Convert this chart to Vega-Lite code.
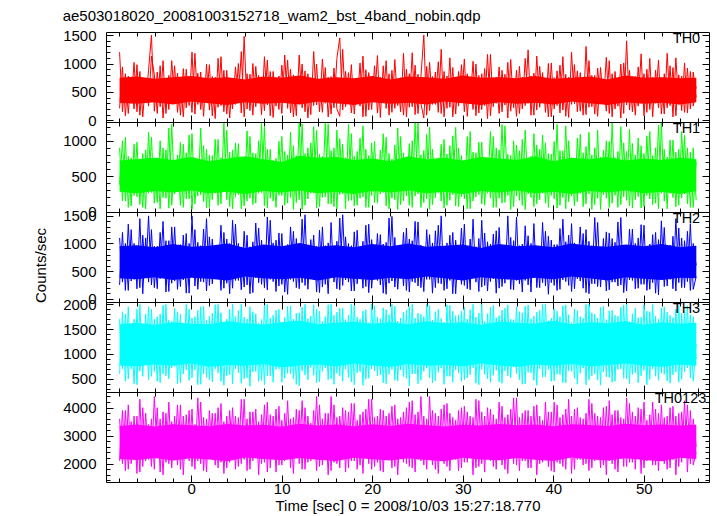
{
"$schema":"https://vega.github.io/schema/vega-lite/v6.json",
"padding":{"left":33,"top":8,"right":5,"bottom":0},
"spacing":0,
"bounds":"flush",
"datasets":{"lc":[
{"t":-7.9,"a":1200,"b":380,"c":1100,"d":1700,"e":3600,"p":210,"q":900,"r":250,"s":600,"u":2100},
{"t":-7.58,"a":150,"b":1000,"c":300,"d":700,"e":2000,"p":940,"q":150,"r":1200,"s":1850,"u":3900},
{"t":-7.26,"a":820,"b":150,"c":1000,"d":1800,"e":3900,"p":80,"q":1050,"r":150,"s":450,"u":1750},
{"t":-6.94,"a":120,"b":780,"c":150,"d":500,"e":1800,"p":780,"q":60,"r":1350,"s":1950,"u":4100},
{"t":-6.62,"a":760,"b":80,"c":1250,"d":1600,"e":3500,"p":300,"q":760,"r":320,"s":700,"u":2000},
{"t":-6.3,"a":200,"b":950,"c":350,"d":400,"e":2200,"p":1020,"q":230,"r":1000,"s":1700,"u":3700},
{"t":-5.98,"a":980,"b":210,"c":900,"d":1900,"e":3700,"p":150,"q":980,"r":180,"s":380,"u":1650},
{"t":-5.66,"a":90,"b":700,"c":200,"d":650,"e":1700,"p":860,"q":100,"r":1450,"s":2000,"u":4300},
{"t":-5.34,"a":700,"b":60,"c":1150,"d":1500,"e":4000,"p":60,"q":820,"r":90,"s":550,"u":1900},
{"t":-5.02,"a":310,"b":870,"c":400,"d":800,"e":2100,"p":720,"q":40,"r":1100,"s":1800,"u":3800},
{"t":-4.7,"a":880,"b":260,"c":1500,"d":1950,"e":3400,"p":250,"q":1120,"r":300,"s":480,"u":2150},
{"t":-4.38,"a":1500,"b":1050,"c":250,"d":550,"e":1900,"p":1130,"q":270,"r":1250,"s":1900,"u":3600},
{"t":-4.06,"a":160,"b":120,"c":950,"d":1700,"e":4400,"p":800,"q":740,"r":200,"s":650,"u":1800},
{"t":-3.74,"a":850,"b":760,"c":180,"d":450,"e":2300,"p":120,"q":130,"r":950,"s":1750,"u":4000},
{"t":-3.42,"a":240,"b":40,"c":1200,"d":1800,"e":3600,"p":960,"q":1000,"r":360,"s":420,"u":1700},
{"t":-3.1,"a":1050,"b":900,"c":380,"d":600,"e":1600,"p":40,"q":200,"r":1400,"s":1980,"u":3850},
{"t":-2.78,"a":120,"b":190,"c":1050,"d":2000,"e":3800,"p":740,"q":870,"r":120,"s":560,"u":2050},
{"t":-2.46,"a":790,"b":1180,"c":130,"d":500,"e":2000,"p":190,"q":50,"r":1050,"s":1680,"u":4200},
{"t":-2.14,"a":300,"b":90,"c":1300,"d":1650,"e":3500,"p":1050,"q":1230,"r":280,"s":720,"u":1850},
{"t":-1.82,"a":960,"b":720,"c":320,"d":750,"e":2400,"p":310,"q":250,"r":1300,"s":1920,"u":3700},
{"t":-1.5,"a":140,"b":300,"c":880,"d":1850,"e":4100,"p":830,"q":800,"r":170,"s":400,"u":1950},
{"t":-1.18,"a":720,"b":980,"c":220,"d":420,"e":1800,"p":90,"q":90,"r":980,"s":1800,"u":4100},
{"t":-0.86,"a":60,"b":60,"c":1150,"d":1600,"e":3700,"p":910,"q":950,"r":340,"s":600,"u":1600},
{"t":-0.54,"a":900,"b":830,"c":100,"d":680,"e":2200,"p":220,"q":180,"r":1180,"s":2000,"u":3750},
{"t":-0.22,"a":260,"b":180,"c":1000,"d":1900,"e":3900,"p":760,"q":1080,"r":100,"s":470,"u":2100},
{"t":0.1,"a":1200,"b":1100,"c":410,"d":520,"e":1900,"p":140,"q":30,"r":1500,"s":1720,"u":3950},
{"t":0.42,"a":110,"b":110,"c":1250,"d":1750,"e":3400,"p":1180,"q":760,"r":230,"s":680,"u":1800},
{"t":0.74,"a":830,"b":690,"c":170,"d":380,"e":2100,"p":280,"q":220,"r":1020,"s":1880,"u":4350},
{"t":1.06,"a":190,"b":240,"c":960,"d":1950,"e":4200,"p":850,"q":1180,"r":310,"s":390,"u":2000},
{"t":1.38,"a":700,"b":930,"c":300,"d":600,"e":1750,"p":70,"q":140,"r":1260,"s":1960,"u":3650},
{"t":1.7,"a":350,"b":50,"c":1450,"d":1680,"e":3600,"p":990,"q":880,"r":140,"s":530,"u":1700},
{"t":2.02,"a":980,"b":800,"c":240,"d":480,"e":2300,"p":180,"q":60,"r":1120,"s":1760,"u":3900},
{"t":2.34,"a":80,"b":170,"c":1080,"d":1820,"e":3800,"p":770,"q":790,"r":270,"s":440,"u":2150},
{"t":2.66,"a":760,"b":1020,"c":360,"d":700,"e":1950,"p":30,"q":260,"r":960,"s":1990,"u":3800},
{"t":2.98,"a":230,"b":90,"c":920,"d":2000,"e":4000,"p":1090,"q":1020,"r":380,"s":620,"u":1850},
{"t":3.3,"a":1120,"b":760,"c":150,"d":450,"e":2050,"p":260,"q":110,"r":1330,"s":1830,"u":4150},
{"t":3.62,"a":150,"b":280,"c":1200,"d":1600,"e":3500,"p":880,"q":1250,"r":190,"s":370,"u":1650},
{"t":3.94,"a":880,"b":1150,"c":280,"d":560,"e":1850,"p":110,"q":170,"r":1080,"s":1700,"u":3700},
{"t":4.26,"a":40,"b":70,"c":1000,"d":1900,"e":3900,"p":730,"q":840,"r":90,"s":580,"u":2050},
{"t":4.58,"a":740,"b":870,"c":190,"d":400,"e":2250,"p":200,"q":40,"r":1420,"s":2000,"u":4000},
{"t":4.9,"a":280,"b":210,"c":1350,"d":1750,"e":3700,"p":940,"q":970,"r":330,"s":700,"u":1800},
{"t":5.22,"a":1000,"b":960,"c":330,"d":620,"e":1900,"p":320,"q":240,"r":1000,"s":1870,"u":3650},
{"t":5.54,"a":130,"b":40,"c":890,"d":2000,"e":4300,"p":1210,"q":760,"r":160,"s":410,"u":2000},
{"t":5.86,"a":1480,"b":740,"c":210,"d":500,"e":2150,"p":60,"q":80,"r":1220,"s":1740,"u":4300},
{"t":6.18,"a":200,"b":150,"c":1150,"d":1700,"e":3600,"p":820,"q":1140,"r":250,"s":520,"u":1750},
{"t":6.5,"a":810,"b":1060,"c":90,"d":350,"e":1800,"p":170,"q":190,"r":940,"s":1950,"u":3850},
{"t":6.82,"a":90,"b":100,"c":1030,"d":1850,"e":3850,"p":1000,"q":830,"r":110,"s":640,"u":2100},
{"t":7.14,"a":950,"b":820,"c":380,"d":650,"e":2400,"p":240,"q":120,"r":1370,"s":1810,"u":3950},
{"t":7.46,"a":330,"b":260,"c":1280,"d":1620,"e":3500,"p":790,"q":1000,"r":290,"s":450,"u":1600},
{"t":7.78,"a":700,"b":1250,"c":260,"d":470,"e":2000,"p":100,"q":270,"r":1060,"s":1690,"u":3750},
{"t":8.1,"a":170,"b":80,"c":940,"d":1980,"e":4100,"p":1120,"q":1200,"r":200,"s":380,"u":2050},
{"t":8.42,"a":1060,"b":880,"c":160,"d":560,"e":1700,"p":270,"q":50,"r":1480,"s":2000,"u":4200},
{"t":8.74,"a":80,"b":190,"c":1420,"d":1720,"e":3750,"p":860,"q":880,"r":350,"s":560,"u":1850},
{"t":9.06,"a":860,"b":720,"c":310,"d":430,"e":2200,"p":50,"q":150,"r":1010,"s":1780,"u":3700},
{"t":9.38,"a":250,"b":60,"c":1060,"d":1880,"e":3950,"p":750,"q":750,"r":130,"s":690,"u":1700},
{"t":9.7,"a":780,"b":990,"c":230,"d":700,"e":1950,"p":190,"q":230,"r":1190,"s":1900,"u":4050},
{"t":10.02,"a":120,"b":230,"c":1180,"d":1640,"e":3550,"p":970,"q":1060,"r":260,"s":430,"u":1950},
{"t":10.34,"a":1150,"b":850,"c":120,"d":510,"e":2100,"p":310,"q":90,"r":920,"s":1730,"u":3800},
{"t":10.66,"a":210,"b":120,"c":980,"d":1960,"e":4250,"p":1060,"q":800,"r":80,"s":610,"u":2150},
{"t":10.98,"a":900,"b":1120,"c":350,"d":600,"e":1850,"p":130,"q":200,"r":1300,"s":1970,"u":3600},
{"t":11.3,"a":60,"b":30,"c":1220,"d":1700,"e":3650,"p":800,"q":930,"r":310,"s":500,"u":1650},
{"t":11.62,"a":740,"b":790,"c":200,"d":390,"e":2300,"p":80,"q":130,"r":1090,"s":1820,"u":3950},
{"t":11.94,"a":300,"b":170,"c":900,"d":1830,"e":3900,"p":1150,"q":1250,"r":180,"s":360,"u":2000},
{"t":12.26,"a":990,"b":1240,"c":290,"d":660,"e":1800,"p":220,"q":30,"r":1440,"s":1940,"u":4250},
{"t":12.58,"a":150,"b":90,"c":1520,"d":2000,"e":4000,"p":870,"q":820,"r":240,"s":580,"u":1800},
{"t":12.9,"a":820,"b":900,"c":170,"d":480,"e":2050,"p":40,"q":180,"r":970,"s":1710,"u":3700},
{"t":13.22,"a":100,"b":260,"c":1070,"d":1760,"e":3450,"p":730,"q":970,"r":370,"s":730,"u":2100},
{"t":13.54,"a":1210,"b":1200,"c":340,"d":570,"e":2250,"p":260,"q":260,"r":1150,"s":1990,"u":3900},
{"t":13.86,"a":270,"b":50,"c":950,"d":1900,"e":4400,"p":990,"q":1150,"r":120,"s":420,"u":1750},
{"t":14.18,"a":690,"b":810,"c":110,"d":440,"e":1900,"p":150,"q":70,"r":1240,"s":1860,"u":4100},
{"t":14.5,"a":140,"b":200,"c":1300,"d":1650,"e":3600,"p":1080,"q":780,"r":210,"s":650,"u":1950},
{"t":14.82,"a":930,"b":1250,"c":260,"d":720,"e":2150,"p":300,"q":210,"r":960,"s":1750,"u":3800},
{"t":15.14,"a":60,"b":110,"c":1010,"d":1990,"e":3800,"p":760,"q":1240,"r":90,"s":480,"u":1600},
{"t":15.46,"a":770,"b":860,"c":390,"d":500,"e":1750,"p":110,"q":110,"r":1380,"s":2000,"u":4400},
{"t":15.78,"a":220,"b":70,"c":880,"d":1780,"e":4100,"p":920,"q":900,"r":300,"s":390,"u":2050},
{"t":16.1,"a":1090,"b":1150,"c":180,"d":610,"e":2000,"p":200,"q":40,"r":1040,"s":1840,"u":3650},
{"t":16.42,"a":1450,"b":240,"c":1460,"d":1920,"e":3700,"p":70,"q":1030,"r":160,"s":560,"u":1850},
{"t":16.74,"a":180,"b":950,"c":240,"d":450,"e":2350,"p":1250,"q":250,"r":1520,"s":1920,"u":4000},
{"t":17.06,"a":860,"b":40,"c":1120,"d":1690,"e":3900,"p":240,"q":760,"r":340,"s":700,"u":1700},
{"t":17.38,"a":300,"b":1230,"c":300,"d":530,"e":1850,"p":840,"q":150,"r":1000,"s":1780,"u":3850},
{"t":17.7,"a":980,"b":160,"c":960,"d":2000,"e":4150,"p":130,"q":1100,"r":140,"s":440,"u":2100},
{"t":18.02,"a":110,"b":780,"c":140,"d":380,"e":2100,"p":730,"q":80,"r":1210,"s":1980,"u":4150},
{"t":18.34,"a":720,"b":90,"c":1240,"d":1740,"e":3550,"p":290,"q":850,"r":270,"s":620,"u":1800},
{"t":18.66,"a":250,"b":1040,"c":360,"d":640,"e":1950,"p":1010,"q":190,"r":930,"s":1700,"u":3750},
{"t":18.98,"a":1130,"b":210,"c":1040,"d":1860,"e":3850,"p":60,"q":1210,"r":190,"s":370,"u":1650},
{"t":19.3,"a":70,"b":880,"c":220,"d":490,"e":2250,"p":890,"q":60,"r":1330,"s":1890,"u":3950},
{"t":19.62,"a":840,"b":60,"c":1350,"d":1630,"e":4300,"p":180,"q":790,"r":110,"s":510,"u":2000},
{"t":19.94,"a":190,"b":970,"c":190,"d":700,"e":1800,"p":780,"q":230,"r":1070,"s":2000,"u":4300},
{"t":20.26,"a":960,"b":130,"c":900,"d":1970,"e":3650,"p":320,"q":990,"r":360,"s":660,"u":1900},
{"t":20.58,"a":130,"b":730,"c":330,"d":560,"e":2050,"p":1140,"q":120,"r":1180,"s":1740,"u":3700},
{"t":20.9,"a":760,"b":250,"c":1160,"d":1710,"e":3950,"p":50,"q":870,"r":250,"s":580,"u":1750},
{"t":21.22,"a":320,"b":1100,"c":100,"d":420,"e":1700,"p":960,"q":270,"r":990,"s":1930,"u":3900},
{"t":21.54,"a":1050,"b":80,"c":1020,"d":1890,"e":3700,"p":210,"q":1050,"r":80,"s":400,"u":2150},
{"t":21.86,"a":90,"b":820,"c":280,"d":590,"e":2200,"p":820,"q":40,"r":1460,"s":1790,"u":3800},
{"t":22.18,"a":880,"b":190,"c":1490,"d":2000,"e":4050,"p":140,"q":740,"r":320,"s":690,"u":1850},
{"t":22.5,"a":210,"b":940,"c":210,"d":470,"e":1900,"p":1070,"q":170,"r":1110,"s":1960,"u":4100},
{"t":22.82,"a":700,"b":30,"c":930,"d":1660,"e":3600,"p":260,"q":1180,"r":170,"s":460,"u":1600},
{"t":23.14,"a":150,"b":1060,"c":370,"d":680,"e":2300,"p":750,"q":100,"r":950,"s":1720,"u":3650},
{"t":23.46,"a":1180,"b":150,"c":1200,"d":1840,"e":3850,"p":90,"q":830,"r":230,"s":540,"u":2050},
{"t":23.78,"a":60,"b":770,"c":150,"d":510,"e":2000,"p":900,"q":220,"r":1280,"s":1880,"u":4000},
{"t":24.1,"a":820,"b":90,"c":1080,"d":1950,"e":4200,"p":230,"q":960,"r":120,"s":360,"u":1900},
{"t":24.42,"a":240,"b":1000,"c":310,"d":600,"e":1850,"p":1190,"q":60,"r":1050,"s":2000,"u":4250},
{"t":24.74,"a":970,"b":220,"c":1400,"d":1720,"e":3750,"p":100,"q":1250,"r":290,"s":600,"u":1700},
{"t":25.06,"a":120,"b":1250,"c":230,"d":400,"e":2150,"p":810,"q":250,"r":1390,"s":1820,"u":3850},
{"t":25.38,"a":760,"b":60,"c":970,"d":1800,"e":4400,"p":300,"q":800,"r":200,"s":470,"u":2100},
{"t":25.7,"a":1500,"b":860,"c":130,"d":650,"e":1950,"p":40,"q":130,"r":920,"s":1750,"u":3700},
{"t":26.02,"a":90,"b":180,"c":1250,"d":2000,"e":3600,"p":950,"q":1090,"r":350,"s":710,"u":1800},
{"t":26.34,"a":1020,"b":1190,"c":350,"d":520,"e":2250,"p":170,"q":30,"r":1160,"s":1970,"u":4400},
{"t":26.66,"a":280,"b":100,"c":1010,"d":1680,"e":3900,"p":770,"q":880,"r":100,"s":420,"u":1950},
{"t":26.98,"a":850,"b":740,"c":200,"d":460,"e":1800,"p":280,"q":200,"r":1230,"s":1850,"u":3800},
{"t":27.3,"a":140,"b":270,"c":1330,"d":1900,"e":3700,"p":1030,"q":760,"r":280,"s":630,"u":1650},
{"t":27.62,"a":1250,"b":950,"c":270,"d":710,"e":2100,"p":120,"q":150,"r":1500,"s":1710,"u":3950},
{"t":27.94,"a":60,"b":50,"c":910,"d":1640,"e":4100,"p":860,"q":1020,"r":150,"s":390,"u":2000},
{"t":28.26,"a":780,"b":810,"c":180,"d":550,"e":1900,"p":210,"q":90,"r":1010,"s":1990,"u":4150},
{"t":28.58,"a":230,"b":160,"c":1150,"d":1980,"e":3800,"p":1100,"q":930,"r":330,"s":550,"u":1750},
{"t":28.9,"a":930,"b":1070,"c":90,"d":430,"e":2350,"p":60,"q":240,"r":1200,"s":1860,"u":3650},
{"t":29.22,"a":110,"b":80,"c":1060,"d":1770,"e":3550,"p":740,"q":1190,"r":90,"s":680,"u":2150},
{"t":29.54,"a":860,"b":900,"c":390,"d":620,"e":1750,"p":250,"q":70,"r":960,"s":1780,"u":3900},
{"t":29.86,"a":320,"b":210,"c":1280,"d":1860,"e":4000,"p":980,"q":790,"r":260,"s":450,"u":1850},
{"t":30.18,"a":1080,"b":700,"c":240,"d":480,"e":2050,"p":150,"q":180,"r":1350,"s":1940,"u":4050},
{"t":30.5,"a":70,"b":40,"c":950,"d":1700,"e":3850,"p":820,"q":1060,"r":180,"s":520,"u":2050},
{"t":30.82,"a":740,"b":1130,"c":160,"d":580,"e":2200,"p":310,"q":40,"r":1080,"s":1890,"u":3700},
{"t":31.14,"a":190,"b":150,"c":1440,"d":2000,"e":3650,"p":1040,"q":840,"r":370,"s":720,"u":1600},
{"t":31.46,"a":990,"b":830,"c":300,"d":410,"e":1850,"p":80,"q":210,"r":940,"s":1740,"u":4300},
{"t":31.78,"a":130,"b":240,"c":1090,"d":1820,"e":4250,"p":790,"q":980,"r":130,"s":380,"u":1900},
{"t":32.1,"a":820,"b":980,"c":210,"d":690,"e":2000,"p":190,"q":110,"r":1420,"s":2000,"u":3850},
{"t":32.42,"a":260,"b":90,"c":1190,"d":1650,"e":3700,"p":910,"q":770,"r":240,"s":590,"u":1700},
{"t":32.74,"a":1160,"b":760,"c":140,"d":500,"e":2300,"p":30,"q":260,"r":1030,"s":1810,"u":4000},
{"t":33.06,"a":80,"b":190,"c":990,"d":1940,"e":3950,"p":1160,"q":1130,"r":310,"s":430,"u":2100},
{"t":33.38,"a":700,"b":1060,"c":360,"d":570,"e":1900,"p":240,"q":60,"r":1170,"s":1980,"u":3750},
{"t":33.7,"a":300,"b":60,"c":1230,"d":1730,"e":3600,"p":760,"q":900,"r":100,"s":670,"u":1800},
{"t":34.02,"a":940,"b":870,"c":190,"d":440,"e":2150,"p":120,"q":190,"r":1290,"s":1770,"u":4200},
{"t":34.34,"a":150,"b":120,"c":920,"d":1880,"e":4050,"p":880,"q":1230,"r":220,"s":410,"u":1950},
{"t":34.66,"a":810,"b":1210,"c":280,"d":660,"e":1800,"p":270,"q":130,"r":970,"s":1920,"u":3650},
{"t":34.98,"a":40,"b":230,"c":1500,"d":1990,"e":3750,"p":1020,"q":810,"r":350,"s":560,"u":1650},
{"t":35.3,"a":1070,"b":790,"c":170,"d":520,"e":2250,"p":160,"q":30,"r":1110,"s":1700,"u":3950},
{"t":35.62,"a":220,"b":70,"c":1050,"d":1690,"e":4350,"p":730,"q":1000,"r":160,"s":740,"u":2000},
{"t":35.94,"a":880,"b":940,"c":330,"d":600,"e":1950,"p":70,"q":220,"r":1480,"s":1950,"u":4350},
{"t":36.26,"a":120,"b":160,"c":960,"d":1850,"e":3650,"p":950,"q":860,"r":270,"s":480,"u":1750},
{"t":36.58,"a":760,"b":1020,"c":120,"d":390,"e":2100,"p":200,"q":90,"r":990,"s":1830,"u":3800},
{"t":36.9,"a":260,"b":30,"c":1320,"d":1960,"e":3900,"p":1090,"q":1150,"r":330,"s":400,"u":2100},
{"t":37.22,"a":1240,"b":750,"c":250,"d":630,"e":1850,"p":300,"q":250,"r":1140,"s":1990,"u":3900},
{"t":37.54,"a":90,"b":200,"c":1000,"d":1710,"e":3700,"p":780,"q":780,"r":120,"s":620,"u":1850},
{"t":37.86,"a":830,"b":1100,"c":380,"d":470,"e":2200,"p":90,"q":70,"r":1360,"s":1760,"u":4050},
{"t":38.18,"a":180,"b":110,"c":890,"d":1840,"e":4100,"p":1130,"q":940,"r":200,"s":370,"u":1600},
{"t":38.5,"a":950,"b":880,"c":200,"d":700,"e":2000,"p":230,"q":170,"r":930,"s":1880,"u":3700},
{"t":38.82,"a":310,"b":260,"c":1380,"d":2000,"e":3550,"p":840,"q":1080,"r":290,"s":530,"u":2050},
{"t":39.14,"a":720,"b":970,"c":230,"d":540,"e":2300,"p":140,"q":120,"r":1220,"s":2000,"u":4200},
{"t":39.46,"a":60,"b":60,"c":1130,"d":1670,"e":3850,"p":1000,"q":820,"r":80,"s":690,"u":1900},
{"t":39.78,"a":1010,"b":810,"c":290,"d":450,"e":1750,"p":60,"q":230,"r":1060,"s":1720,"u":3850},
{"t":40.1,"a":200,"b":180,"c":980,"d":1910,"e":4200,"p":750,"q":990,"r":240,"s":460,"u":1700},
{"t":40.42,"a":870,"b":1230,"c":150,"d":590,"e":2050,"p":260,"q":50,"r":980,"s":1860,"u":4100},
{"t":40.74,"a":130,"b":90,"c":1270,"d":1750,"e":3650,"p":970,"q":860,"r":170,"s":580,"u":2000},
{"t":41.06,"a":1120,"b":860,"c":340,"d":420,"e":1900,"p":180,"q":200,"r":1440,"s":1970,"u":3750},
{"t":41.38,"a":70,"b":40,"c":1030,"d":1990,"e":3950,"p":810,"q":1210,"r":310,"s":420,"u":1800},
{"t":41.7,"a":760,"b":1000,"c":240,"d":660,"e":2250,"p":50,"q":140,"r":1150,"s":1790,"u":4300},
{"t":42.02,"a":280,"b":220,"c":1360,"d":1630,"e":3700,"p":1200,"q":760,"r":130,"s":650,"u":1650},
{"t":42.34,"a":980,"b":740,"c":180,"d":510,"e":1800,"p":290,"q":80,"r":1010,"s":1910,"u":3950},
{"t":42.66,"a":150,"b":140,"c":910,"d":1870,"e":4000,"p":870,"q":1040,"r":360,"s":390,"u":2150},
{"t":42.98,"a":840,"b":1090,"c":320,"d":610,"e":2150,"p":160,"q":260,"r":1300,"s":1750,"u":3650},
{"t":43.3,"a":90,"b":70,"c":1180,"d":1720,"e":3600,"p":760,"q":830,"r":190,"s":710,"u":1950},
{"t":43.62,"a":1300,"b":920,"c":110,"d":380,"e":2000,"p":100,"q":110,"r":1250,"s":2000,"u":3800},
{"t":43.94,"a":230,"b":250,"c":1040,"d":2000,"e":4300,"p":1050,"q":1120,"r":90,"s":480,"u":1750},
{"t":44.26,"a":790,"b":800,"c":270,"d":560,"e":1850,"p":240,"q":30,"r":960,"s":1830,"u":4150},
{"t":44.58,"a":110,"b":100,"c":1470,"d":1800,"e":3800,"p":790,"q":900,"r":270,"s":600,"u":2100},
{"t":44.9,"a":920,"b":1150,"c":220,"d":480,"e":2200,"p":70,"q":190,"r":1380,"s":1720,"u":3700},
{"t":45.22,"a":340,"b":30,"c":940,"d":1940,"e":3650,"p":930,"q":770,"r":210,"s":370,"u":1850},
{"t":45.54,"a":700,"b":870,"c":360,"d":640,"e":1950,"p":310,"q":240,"r":1090,"s":1960,"u":4000},
{"t":45.86,"a":160,"b":190,"c":1210,"d":1690,"e":4050,"p":1110,"q":1000,"r":140,"s":540,"u":1600},
{"t":46.18,"a":1050,"b":990,"c":160,"d":530,"e":2100,"p":120,"q":60,"r":1190,"s":1870,"u":4250},
{"t":46.5,"a":60,"b":120,"c":1090,"d":1880,"e":3750,"p":820,"q":1250,"r":300,"s":430,"u":2000},
{"t":46.82,"a":860,"b":760,"c":300,"d":450,"e":1800,"p":200,"q":230,"r":1020,"s":1780,"u":3900},
{"t":47.14,"a":250,"b":60,"c":1390,"d":1760,"e":3900,"p":740,"q":850,"r":230,"s":690,"u":1700},
{"t":47.46,"a":990,"b":1200,"c":250,"d":700,"e":2300,"p":40,"q":100,"r":1470,"s":1940,"u":3650},
{"t":47.78,"a":120,"b":210,"c":960,"d":1990,"e":3600,"p":1010,"q":970,"r":110,"s":510,"u":1900},
{"t":48.1,"a":1400,"b":850,"c":140,"d":500,"e":1900,"p":270,"q":160,"r":940,"s":2000,"u":4350},
{"t":48.42,"a":180,"b":80,"c":1260,"d":1650,"e":4150,"p":880,"q":1160,"r":340,"s":400,"u":2050},
{"t":48.74,"a":770,"b":960,"c":330,"d":590,"e":2050,"p":150,"q":50,"r":1260,"s":1810,"u":3850},
{"t":49.06,"a":90,"b":170,"c":1000,"d":1920,"e":3700,"p":770,"q":800,"r":180,"s":620,"u":1800},
{"t":49.38,"a":940,"b":1040,"c":190,"d":420,"e":2200,"p":250,"q":210,"r":1100,"s":1730,"u":4000},
{"t":49.7,"a":300,"b":50,"c":1340,"d":1740,"e":3950,"p":1170,"q":930,"r":260,"s":560,"u":1650},
{"t":50.02,"a":820,"b":820,"c":260,"d":670,"e":1850,"p":80,"q":70,"r":1330,"s":1990,"u":4200},
{"t":50.34,"a":140,"b":230,"c":920,"d":1860,"e":3550,"p":900,"q":1070,"r":150,"s":380,"u":2100},
{"t":50.66,"a":1090,"b":1130,"c":170,"d":490,"e":2250,"p":190,"q":180,"r":990,"s":1850,"u":3750},
{"t":50.98,"a":60,"b":100,"c":1160,"d":2000,"e":4200,"p":760,"q":790,"r":290,"s":700,"u":1950},
{"t":51.3,"a":880,"b":900,"c":100,"d":550,"e":1950,"p":300,"q":120,"r":1200,"s":1760,"u":3950},
{"t":51.62,"a":220,"b":40,"c":1070,"d":1700,"e":3800,"p":1060,"q":1220,"r":70,"s":470,"u":1750},
{"t":51.94,"a":750,"b":1250,"c":380,"d":620,"e":2100,"p":110,"q":260,"r":1410,"s":1920,"u":4100},
{"t":52.26,"a":110,"b":150,"c":1290,"d":1950,"e":3650,"p":820,"q":880,"r":220,"s":590,"u":2000},
{"t":52.58,"a":1180,"b":770,"c":230,"d":460,"e":1800,"p":220,"q":40,"r":970,"s":1840,"u":3700},
{"t":52.9,"a":260,"b":260,"c":970,"d":1780,"e":4000,"p":960,"q":1010,"r":350,"s":410,"u":1850},
{"t":53.22,"a":930,"b":1010,"c":180,"d":580,"e":2150,"p":60,"q":200,"r":1130,"s":1730,"u":4050},
{"t":53.54,"a":80,"b":70,"c":1450,"d":1900,"e":3700,"p":1100,"q":840,"r":140,"s":640,"u":1600},
{"t":53.86,"a":800,"b":880,"c":290,"d":430,"e":1900,"p":280,"q":90,"r":1280,"s":1980,"u":3800},
{"t":54.18,"a":170,"b":190,"c":1100,"d":1820,"e":3850,"p":780,"q":1130,"r":200,"s":490,"u":2050},
{"t":54.5,"a":1010,"b":1080,"c":200,"d":640,"e":2200,"p":140,"q":250,"r":1050,"s":1870,"u":4250},
{"t":54.82,"a":130,"b":110,"c":1220,"d":1970,"e":4100,"p":920,"q":900,"r":310,"s":720,"u":1700},
{"t":55.14,"a":860,"b":840,"c":150,"d":520,"e":2000,"p":200,"q":60,"r":1360,"s":1790,"u":3900},
{"t":55.46,"a":250,"b":60,"c":1000,"d":1750,"e":3600,"p":850,"q":900,"r":170,"s":450,"u":1950},
{"t":55.78,"a":600,"b":700,"c":600,"d":900,"e":2600,"p":400,"q":160,"r":400,"s":1200,"u":2400}
],
"core":[
{"t":-7.9,"a1":310,"a2":750,"b1":280,"b2":720,"c1":370,"c2":950,"d1":770,"d2":1600,"e1":2170,"e2":3350},
{"t":-6,"a1":290,"a2":770,"b1":260,"b2":740,"c1":350,"c2":970,"d1":750,"d2":1630,"e1":2130,"e2":3400},
{"t":-4,"a1":320,"a2":730,"b1":290,"b2":760,"c1":390,"c2":930,"d1":790,"d2":1590,"e1":2200,"e2":3330},
{"t":-2,"a1":280,"a2":760,"b1":270,"b2":730,"c1":340,"c2":990,"d1":760,"d2":1640,"e1":2110,"e2":3410},
{"t":0,"a1":330,"a2":780,"b1":300,"b2":770,"c1":380,"c2":940,"d1":810,"d2":1610,"e1":2190,"e2":3370},
{"t":2,"a1":300,"a2":740,"b1":260,"b2":710,"c1":360,"c2":960,"d1":740,"d2":1600,"e1":2150,"e2":3340},
{"t":4,"a1":270,"a2":760,"b1":280,"b2":750,"c1":330,"c2":1000,"d1":780,"d2":1660,"e1":2090,"e2":3420},
{"t":6,"a1":320,"a2":720,"b1":250,"b2":780,"c1":400,"c2":920,"d1":760,"d2":1620,"e1":2220,"e2":3360},
{"t":8,"a1":290,"a2":770,"b1":290,"b2":740,"c1":370,"c2":980,"d1":800,"d2":1590,"e1":2170,"e2":3390},
{"t":10,"a1":310,"a2":750,"b1":270,"b2":700,"c1":350,"c2":950,"d1":730,"d2":1640,"e1":2120,"e2":3320},
{"t":12,"a1":280,"a2":790,"b1":300,"b2":790,"c1":380,"c2":1010,"d1":770,"d2":1670,"e1":2200,"e2":3430},
{"t":14,"a1":330,"a2":730,"b1":260,"b2":760,"c1":330,"c2":940,"d1":790,"d2":1600,"e1":2140,"e2":3360},
{"t":16,"a1":300,"a2":760,"b1":280,"b2":770,"c1":390,"c2":970,"d1":750,"d2":1630,"e1":2100,"e2":3400},
{"t":18,"a1":270,"a2":740,"b1":250,"b2":730,"c1":360,"c2":930,"d1":810,"d2":1650,"e1":2210,"e2":3340},
{"t":20,"a1":320,"a2":780,"b1":290,"b2":750,"c1":340,"c2":990,"d1":770,"d2":1610,"e1":2160,"e2":3410},
{"t":22,"a1":290,"a2":720,"b1":270,"b2":710,"c1":380,"c2":950,"d1":740,"d2":1640,"e1":2110,"e2":3350},
{"t":24,"a1":310,"a2":770,"b1":300,"b2":780,"c1":350,"c2":1000,"d1":800,"d2":1600,"e1":2190,"e2":3430},
{"t":26,"a1":280,"a2":760,"b1":260,"b2":740,"c1":400,"c2":940,"d1":760,"d2":1660,"e1":2130,"e2":3370},
{"t":28,"a1":330,"a2":730,"b1":280,"b2":760,"c1":370,"c2":960,"d1":780,"d2":1620,"e1":2090,"e2":3330},
{"t":30,"a1":300,"a2":790,"b1":250,"b2":720,"c1":330,"c2":980,"d1":750,"d2":1640,"e1":2210,"e2":3390},
{"t":32,"a1":270,"a2":750,"b1":290,"b2":770,"c1":390,"c2":920,"d1":810,"d2":1590,"e1":2150,"e2":3360},
{"t":34,"a1":320,"a2":760,"b1":270,"b2":750,"c1":360,"c2":990,"d1":770,"d2":1650,"e1":2120,"e2":3420},
{"t":36,"a1":290,"a2":740,"b1":300,"b2":730,"c1":340,"c2":950,"d1":740,"d2":1630,"e1":2200,"e2":3370},
{"t":38,"a1":310,"a2":780,"b1":260,"b2":780,"c1":380,"c2":970,"d1":790,"d2":1610,"e1":2140,"e2":3400},
{"t":40,"a1":280,"a2":730,"b1":280,"b2":710,"c1":350,"c2":930,"d1":760,"d2":1670,"e1":2100,"e2":3340},
{"t":42,"a1":330,"a2":750,"b1":250,"b2":760,"c1":400,"c2":1000,"d1":800,"d2":1600,"e1":2220,"e2":3410},
{"t":44,"a1":300,"a2":770,"b1":290,"b2":740,"c1":370,"c2":960,"d1":750,"d2":1640,"e1":2160,"e2":3380},
{"t":46,"a1":270,"a2":720,"b1":270,"b2":770,"c1":330,"c2":940,"d1":780,"d2":1620,"e1":2110,"e2":3350},
{"t":48,"a1":320,"a2":790,"b1":300,"b2":720,"c1":390,"c2":980,"d1":810,"d2":1660,"e1":2190,"e2":3430},
{"t":50,"a1":290,"a2":750,"b1":260,"b2":750,"c1":360,"c2":950,"d1":770,"d2":1590,"e1":2130,"e2":3370},
{"t":52,"a1":310,"a2":760,"b1":280,"b2":730,"c1":340,"c2":990,"d1":740,"d2":1640,"e1":2090,"e2":3400},
{"t":54,"a1":280,"a2":740,"b1":250,"b2":760,"c1":380,"c2":930,"d1":790,"d2":1610,"e1":2210,"e2":3360},
{"t":55.8,"a1":320,"a2":750,"b1":290,"b2":740,"c1":370,"c2":960,"d1":760,"d2":1630,"e1":2170,"e2":3390}
]},
"vconcat":[
{"width":603,"height":90,
 "title":{"text":"ae503018020_20081003152718_wam2_bst_4band_nobin.qdp","anchor":"start","fontSize":15,"font":"Liberation Sans","fontWeight":"normal","color":"black","offset":4},
 "layer":[
  {"data":{"name":"core"},"mark":{"type":"area","color":"#ff0000","clip":true},
   "encoding":{"x":{"field":"t","type":"quantitative","scale":{"domain":[-9.4,57.2],"nice":false,"zero":false},"axis":null},
    "y":{"field":"a1","type":"quantitative","scale":{"domain":[-30,1555],"nice":false,"zero":false},"axis":null},"y2":{"field":"a2"}}},
  {"data":{"name":"lc"},"mark":{"type":"line","color":"#ff0000","strokeWidth":1,"clip":true},
   "encoding":{"x":{"field":"t","type":"quantitative","axis":null},"y":{"field":"p","type":"quantitative","axis":null}}},
  {"data":{"name":"lc"},"mark":{"type":"line","color":"#ff0000","strokeWidth":1,"clip":true},
   "encoding":{
    "x":{"field":"t","type":"quantitative","scale":{"domain":[-9.4,57.2],"nice":false,"zero":false},"axis":{"orient":"bottom","values":[0,10,20,30,40,50],"labels":false,"tickSize":-7,"title":null}},
    "y":{"field":"a","type":"quantitative","scale":{"domain":[-30,1555],"nice":false,"zero":false},"axis":{"orient":"left","values":[0,500,1000,1500],"format":"d","tickSize":-7,"labelPadding":17,"title":null}}}},
  {"data":{"values":[{"lab":"TH0"}]},"mark":{"type":"text","align":"left","baseline":"top","fontSize":14.5,"font":"Liberation Sans","color":"black"},
   "encoding":{"text":{"field":"lab"},
    "x":{"datum":53.2,"type":"quantitative","axis":{"orient":"top","values":[0,10,20,30,40,50],"labels":false,"tickSize":-7,"title":null}},
    "y":{"datum":1555,"type":"quantitative","axis":{"orient":"right","values":[0,500,1000,1500],"labels":false,"tickSize":-7,"title":null}}}},
  {"data":{"values":[{"lab":"TH0"}]},"mark":{"type":"point","opacity":0},
   "encoding":{
    "x":{"datum":20,"type":"quantitative","axis":{"orient":"bottom","values":[-8,-6,-4,-2,0,2,4,6,8,10,12,14,16,18,20,22,24,26,28,30,32,34,36,38,40,42,44,46,48,50,52,54,56],"labels":false,"tickSize":-4,"title":null}},
    "y":{"datum":700,"type":"quantitative","axis":{"orient":"left","values":[0,100,200,300,400,500,600,700,800,900,1000,1100,1200,1300,1400,1500],"labels":false,"tickSize":-4,"title":null}}}},
  {"data":{"values":[{"lab":"TH0"}]},"mark":{"type":"point","opacity":0},
   "encoding":{
    "x":{"datum":20,"type":"quantitative","axis":{"orient":"top","values":[-8,-6,-4,-2,0,2,4,6,8,10,12,14,16,18,20,22,24,26,28,30,32,34,36,38,40,42,44,46,48,50,52,54,56],"labels":false,"tickSize":-4,"title":null}},
    "y":{"datum":700,"type":"quantitative","axis":{"orient":"right","values":[0,100,200,300,400,500,600,700,800,900,1000,1100,1200,1300,1400,1500],"labels":false,"tickSize":-4,"title":null}}}}
 ],
 "resolve":{"axis":{"x":"independent","y":"independent"}}
},
{"width":603,"height":90,
 "layer":[
  {"data":{"name":"core"},"mark":{"type":"area","color":"#00ff00","clip":true},
   "encoding":{"x":{"field":"t","type":"quantitative","scale":{"domain":[-9.4,57.2],"nice":false,"zero":false},"axis":null},
    "y":{"field":"b1","type":"quantitative","scale":{"domain":[-5,1265],"nice":false,"zero":false},"axis":null},"y2":{"field":"b2"}}},
  {"data":{"name":"lc"},"mark":{"type":"line","color":"#00ff00","strokeWidth":1,"clip":true},
   "encoding":{"x":{"field":"t","type":"quantitative","axis":null},"y":{"field":"q","type":"quantitative","axis":null}}},
  {"data":{"name":"lc"},"mark":{"type":"line","color":"#00ff00","strokeWidth":1,"clip":true},
   "encoding":{
    "x":{"field":"t","type":"quantitative","scale":{"domain":[-9.4,57.2],"nice":false,"zero":false},"axis":{"orient":"bottom","values":[0,10,20,30,40,50],"labels":false,"tickSize":-7,"title":null}},
    "y":{"field":"b","type":"quantitative","scale":{"domain":[-5,1265],"nice":false,"zero":false},"axis":{"orient":"left","values":[0,500,1000],"format":"d","tickSize":-7,"labelPadding":17,"title":null}}}},
  {"data":{"values":[{"lab":"TH1"}]},"mark":{"type":"text","align":"left","baseline":"top","fontSize":14.5,"font":"Liberation Sans","color":"black"},
   "encoding":{"text":{"field":"lab"},
    "x":{"datum":53.2,"type":"quantitative","axis":{"orient":"top","values":[0,10,20,30,40,50],"labels":false,"tickSize":-7,"title":null}},
    "y":{"datum":1265,"type":"quantitative","axis":{"orient":"right","values":[0,500,1000],"labels":false,"tickSize":-7,"title":null}}}},
  {"data":{"values":[{"lab":"TH1"}]},"mark":{"type":"point","opacity":0},
   "encoding":{
    "x":{"datum":20,"type":"quantitative","axis":{"orient":"bottom","values":[-8,-6,-4,-2,0,2,4,6,8,10,12,14,16,18,20,22,24,26,28,30,32,34,36,38,40,42,44,46,48,50,52,54,56],"labels":false,"tickSize":-4,"title":null}},
    "y":{"datum":600,"type":"quantitative","axis":{"orient":"left","values":[0,100,200,300,400,500,600,700,800,900,1000,1100,1200],"labels":false,"tickSize":-4,"title":null}}}},
  {"data":{"values":[{"lab":"TH1"}]},"mark":{"type":"point","opacity":0},
   "encoding":{
    "x":{"datum":20,"type":"quantitative","axis":{"orient":"top","values":[-8,-6,-4,-2,0,2,4,6,8,10,12,14,16,18,20,22,24,26,28,30,32,34,36,38,40,42,44,46,48,50,52,54,56],"labels":false,"tickSize":-4,"title":null}},
    "y":{"datum":600,"type":"quantitative","axis":{"orient":"right","values":[0,100,200,300,400,500,600,700,800,900,1000,1100,1200],"labels":false,"tickSize":-4,"title":null}}}}
 ],
 "resolve":{"axis":{"x":"independent","y":"independent"}}
},
{"width":603,"height":90,
 "layer":[
  {"data":{"name":"core"},"mark":{"type":"area","color":"#0000ff","clip":true},
   "encoding":{"x":{"field":"t","type":"quantitative","scale":{"domain":[-9.4,57.2],"nice":false,"zero":false},"axis":null},
    "y":{"field":"c1","type":"quantitative","scale":{"domain":[-60,1570],"nice":false,"zero":false},"axis":null},"y2":{"field":"c2"}}},
  {"data":{"name":"lc"},"mark":{"type":"line","color":"#0000ff","strokeWidth":1,"clip":true},
   "encoding":{"x":{"field":"t","type":"quantitative","axis":null},"y":{"field":"r","type":"quantitative","axis":null}}},
  {"data":{"name":"lc"},"mark":{"type":"line","color":"#0000ff","strokeWidth":1,"clip":true},
   "encoding":{
    "x":{"field":"t","type":"quantitative","scale":{"domain":[-9.4,57.2],"nice":false,"zero":false},"axis":{"orient":"bottom","values":[0,10,20,30,40,50],"labels":false,"tickSize":-7,"title":null}},
    "y":{"field":"c","type":"quantitative","scale":{"domain":[-60,1570],"nice":false,"zero":false},"axis":{"orient":"left","values":[0,500,1000,1500],"format":"d","tickSize":-7,"labelPadding":17,"title":"Counts/sec","titlePadding":14,"titleY":53}}}},
  {"data":{"values":[{"lab":"TH2"}]},"mark":{"type":"text","align":"left","baseline":"top","fontSize":14.5,"font":"Liberation Sans","color":"black"},
   "encoding":{"text":{"field":"lab"},
    "x":{"datum":53.2,"type":"quantitative","axis":{"orient":"top","values":[0,10,20,30,40,50],"labels":false,"tickSize":-7,"title":null}},
    "y":{"datum":1570,"type":"quantitative","axis":{"orient":"right","values":[0,500,1000,1500],"labels":false,"tickSize":-7,"title":null}}}},
  {"data":{"values":[{"lab":"TH2"}]},"mark":{"type":"point","opacity":0},
   "encoding":{
    "x":{"datum":20,"type":"quantitative","axis":{"orient":"bottom","values":[-8,-6,-4,-2,0,2,4,6,8,10,12,14,16,18,20,22,24,26,28,30,32,34,36,38,40,42,44,46,48,50,52,54,56],"labels":false,"tickSize":-4,"title":null}},
    "y":{"datum":700,"type":"quantitative","axis":{"orient":"left","values":[0,100,200,300,400,500,600,700,800,900,1000,1100,1200,1300,1400,1500],"labels":false,"tickSize":-4,"title":null}}}},
  {"data":{"values":[{"lab":"TH2"}]},"mark":{"type":"point","opacity":0},
   "encoding":{
    "x":{"datum":20,"type":"quantitative","axis":{"orient":"top","values":[-8,-6,-4,-2,0,2,4,6,8,10,12,14,16,18,20,22,24,26,28,30,32,34,36,38,40,42,44,46,48,50,52,54,56],"labels":false,"tickSize":-4,"title":null}},
    "y":{"datum":700,"type":"quantitative","axis":{"orient":"right","values":[0,100,200,300,400,500,600,700,800,900,1000,1100,1200,1300,1400,1500],"labels":false,"tickSize":-4,"title":null}}}}
 ],
 "resolve":{"axis":{"x":"independent","y":"independent"}}
},
{"width":603,"height":90,
 "layer":[
  {"data":{"name":"core"},"mark":{"type":"area","color":"#00ffff","clip":true},
   "encoding":{"x":{"field":"t","type":"quantitative","scale":{"domain":[-9.4,57.2],"nice":false,"zero":false},"axis":null},
    "y":{"field":"d1","type":"quantitative","scale":{"domain":[234,2046],"nice":false,"zero":false},"axis":null},"y2":{"field":"d2"}}},
  {"data":{"name":"lc"},"mark":{"type":"line","color":"#00ffff","strokeWidth":1,"clip":true},
   "encoding":{"x":{"field":"t","type":"quantitative","axis":null},"y":{"field":"s","type":"quantitative","axis":null}}},
  {"data":{"name":"lc"},"mark":{"type":"line","color":"#00ffff","strokeWidth":1,"clip":true},
   "encoding":{
    "x":{"field":"t","type":"quantitative","scale":{"domain":[-9.4,57.2],"nice":false,"zero":false},"axis":{"orient":"bottom","values":[0,10,20,30,40,50],"labels":false,"tickSize":-7,"title":null}},
    "y":{"field":"d","type":"quantitative","scale":{"domain":[234,2046],"nice":false,"zero":false},"axis":{"orient":"left","values":[500,1000,1500,2000],"format":"d","tickSize":-7,"labelPadding":17,"title":null}}}},
  {"data":{"values":[{"lab":"TH3"}]},"mark":{"type":"text","align":"left","baseline":"top","fontSize":14.5,"font":"Liberation Sans","color":"black"},
   "encoding":{"text":{"field":"lab"},
    "x":{"datum":53.2,"type":"quantitative","axis":{"orient":"top","values":[0,10,20,30,40,50],"labels":false,"tickSize":-7,"title":null}},
    "y":{"datum":2046,"type":"quantitative","axis":{"orient":"right","values":[500,1000,1500,2000],"labels":false,"tickSize":-7,"title":null}}}},
  {"data":{"values":[{"lab":"TH3"}]},"mark":{"type":"point","opacity":0},
   "encoding":{
    "x":{"datum":20,"type":"quantitative","axis":{"orient":"bottom","values":[-8,-6,-4,-2,0,2,4,6,8,10,12,14,16,18,20,22,24,26,28,30,32,34,36,38,40,42,44,46,48,50,52,54,56],"labels":false,"tickSize":-4,"title":null}},
    "y":{"datum":1100,"type":"quantitative","axis":{"orient":"left","values":[300,400,500,600,700,800,900,1000,1100,1200,1300,1400,1500,1600,1700,1800,1900,2000],"labels":false,"tickSize":-4,"title":null}}}},
  {"data":{"values":[{"lab":"TH3"}]},"mark":{"type":"point","opacity":0},
   "encoding":{
    "x":{"datum":20,"type":"quantitative","axis":{"orient":"top","values":[-8,-6,-4,-2,0,2,4,6,8,10,12,14,16,18,20,22,24,26,28,30,32,34,36,38,40,42,44,46,48,50,52,54,56],"labels":false,"tickSize":-4,"title":null}},
    "y":{"datum":1100,"type":"quantitative","axis":{"orient":"right","values":[300,400,500,600,700,800,900,1000,1100,1200,1300,1400,1500,1600,1700,1800,1900,2000],"labels":false,"tickSize":-4,"title":null}}}}
 ],
 "resolve":{"axis":{"x":"independent","y":"independent"}}
},
{"width":603,"height":90,
 "layer":[
  {"data":{"name":"core"},"mark":{"type":"area","color":"#ff00ff","clip":true},
   "encoding":{"x":{"field":"t","type":"quantitative","scale":{"domain":[-9.4,57.2],"nice":false,"zero":false},"axis":null},
    "y":{"field":"e1","type":"quantitative","scale":{"domain":[1346,4560],"nice":false,"zero":false},"axis":null},"y2":{"field":"e2"}}},
  {"data":{"name":"lc"},"mark":{"type":"line","color":"#ff00ff","strokeWidth":1,"clip":true},
   "encoding":{"x":{"field":"t","type":"quantitative","axis":null},"y":{"field":"u","type":"quantitative","axis":null}}},
  {"data":{"name":"lc"},"mark":{"type":"line","color":"#ff00ff","strokeWidth":1,"clip":true},
   "encoding":{
    "x":{"field":"t","type":"quantitative","scale":{"domain":[-9.4,57.2],"nice":false,"zero":false},"axis":{"orient":"bottom","values":[0,10,20,30,40,50],"labels":true,"tickSize":-7,"labelPadding":6,"title":"Time [sec] 0 = 2008/10/03 15:27:18.770","titlePadding":2}},
    "y":{"field":"e","type":"quantitative","scale":{"domain":[1346,4560],"nice":false,"zero":false},"axis":{"orient":"left","values":[2000,3000,4000],"format":"d","tickSize":-7,"labelPadding":17,"title":null}}}},
  {"data":{"values":[{"lab":"TH0123"}]},"mark":{"type":"text","align":"left","baseline":"top","fontSize":14.5,"font":"Liberation Sans","color":"black"},
   "encoding":{"text":{"field":"lab"},
    "x":{"datum":51.2,"type":"quantitative","axis":{"orient":"top","values":[0,10,20,30,40,50],"labels":false,"tickSize":-7,"title":null}},
    "y":{"datum":4560,"type":"quantitative","axis":{"orient":"right","values":[2000,3000,4000],"labels":false,"tickSize":-7,"title":null}}}},
  {"data":{"values":[{"lab":"TH0123"}]},"mark":{"type":"point","opacity":0},
   "encoding":{
    "x":{"datum":20,"type":"quantitative","axis":{"orient":"bottom","values":[-8,-6,-4,-2,0,2,4,6,8,10,12,14,16,18,20,22,24,26,28,30,32,34,36,38,40,42,44,46,48,50,52,54,56],"labels":false,"tickSize":-4,"title":null}},
    "y":{"datum":3000,"type":"quantitative","axis":{"orient":"left","values":[1400,1600,1800,2000,2200,2400,2600,2800,3000,3200,3400,3600,3800,4000,4200,4400],"labels":false,"tickSize":-4,"title":null}}}},
  {"data":{"values":[{"lab":"TH0123"}]},"mark":{"type":"point","opacity":0},
   "encoding":{
    "x":{"datum":20,"type":"quantitative","axis":{"orient":"top","values":[-8,-6,-4,-2,0,2,4,6,8,10,12,14,16,18,20,22,24,26,28,30,32,34,36,38,40,42,44,46,48,50,52,54,56],"labels":false,"tickSize":-4,"title":null}},
    "y":{"datum":3000,"type":"quantitative","axis":{"orient":"right","values":[1400,1600,1800,2000,2200,2400,2600,2800,3000,3200,3400,3600,3800,4000,4200,4400],"labels":false,"tickSize":-4,"title":null}}}}
 ],
 "resolve":{"axis":{"x":"independent","y":"independent"}}
}
],
"config":{
 "view":{"stroke":"black","strokeWidth":1},
 "axis":{"domain":false,"grid":false,"tickColor":"black","tickWidth":1,"labelColor":"black","labelFont":"Liberation Sans","labelFontSize":15,"titleFont":"Liberation Sans","titleFontSize":15,"titleFontWeight":"normal","titleColor":"black"}
}
}
